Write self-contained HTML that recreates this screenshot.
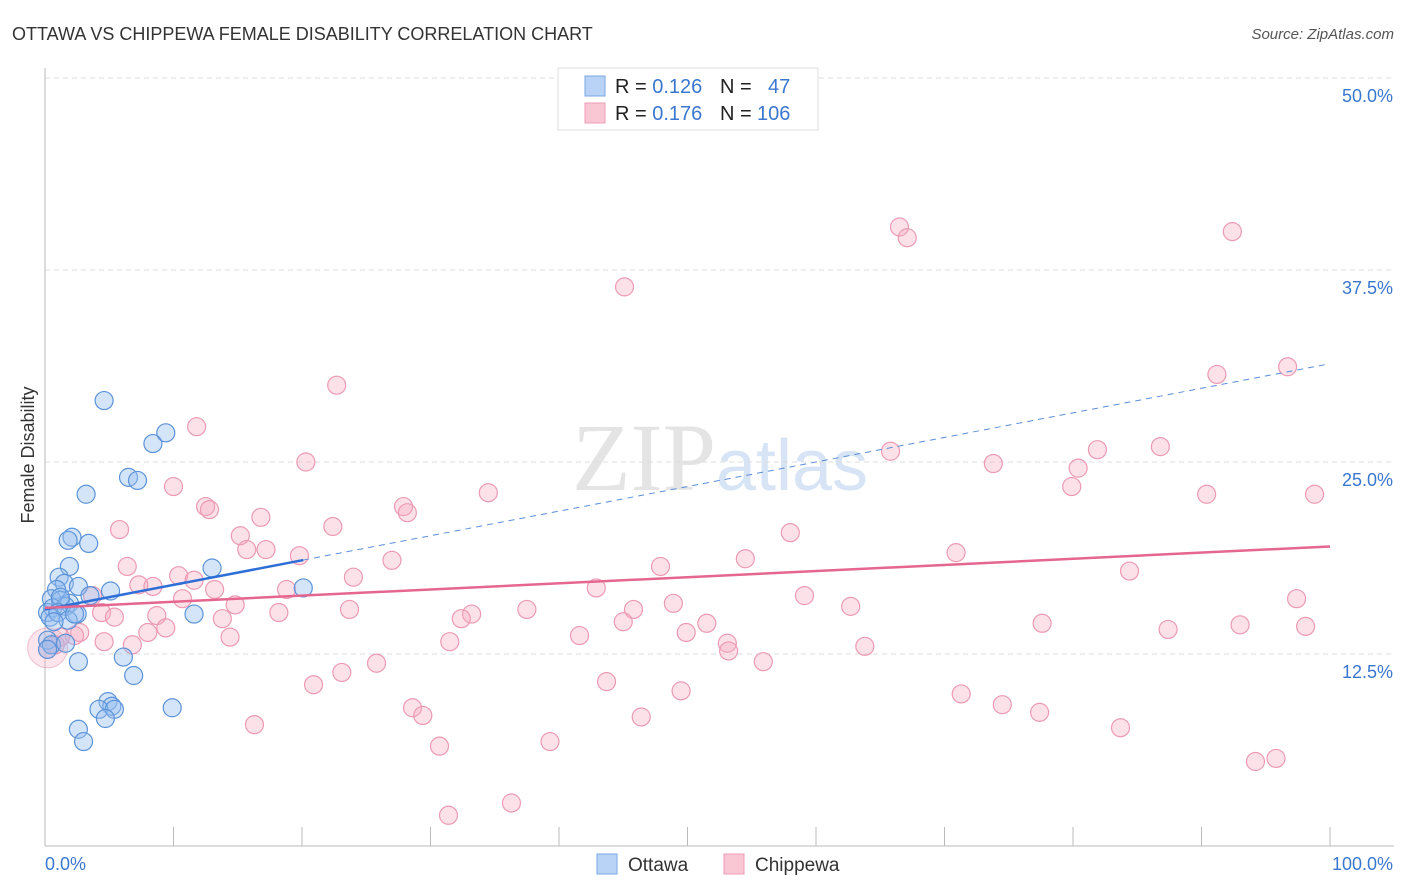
<!DOCTYPE html>
<html><head><meta charset="utf-8"><style>
html,body{margin:0;padding:0;background:#fff;}
svg{display:block;font-family:"Liberation Sans",sans-serif;}
</style></head><body>
<svg id="chart" width="1406" height="892">
<text x="12" y="40" font-size="18" fill="#333">OTTAWA VS CHIPPEWA FEMALE DISABILITY CORRELATION CHART</text>
<text x="1394" y="39" font-size="15" fill="#555" font-style="italic" text-anchor="end">Source: ZipAtlas.com</text>
<text x="720" y="490" font-size="96" fill="#e4e4e4" text-anchor="middle" font-family="Liberation Serif, serif">ZIP<tspan fill="#d6e4f5" font-family="Liberation Sans, sans-serif" font-size="72">atlas</tspan></text>
<g id="grid"></g>
<g id="axes"></g>
<g id="pink"></g>
<g id="blue"></g>
<g id="trends"></g>
<text transform="translate(34,455) rotate(-90)" font-size="18" fill="#333" text-anchor="middle">Female Disability</text>
<g>
<rect x="558" y="68" width="260" height="62" fill="#fff" stroke="#ddd"/>
<rect x="585" y="76" width="20" height="20" fill="#b8d3f5" stroke="#7aa8e4"/>
<rect x="585" y="103" width="20" height="20" fill="#f9c6d4" stroke="#ee9bb5"/>
<text x="615" y="93" font-size="20" fill="#222">R = <tspan fill="#3a78d0">0.126</tspan><tspan x="720">N = </tspan><tspan x="768" fill="#3a78d0">47</tspan></text>
<text x="615" y="120" font-size="20" fill="#222">R = <tspan fill="#3a78d0">0.176</tspan><tspan x="720">N = </tspan><tspan x="757" fill="#3a78d0">106</tspan></text>
</g>
<g>
<rect x="597" y="854" width="20" height="20" fill="#b8d3f5" stroke="#7aa8e4"/>
<text x="628" y="871" font-size="19" fill="#333">Ottawa</text>
<rect x="724" y="854" width="20" height="20" fill="#f9c6d4" stroke="#ee9bb5"/>
<text x="755" y="871" font-size="19" fill="#333">Chippewa</text>
</g>
</svg>
<script>
const yTicks=[12.5,25,37.5,50];
const yTickLabels=["12.5%","25.0%","37.5%","50.0%"];
const xTickLabels=["0.0%","100.0%"];
const ottawaX=[4.6,8.4,9.4,6.5,7.2,3.2,2.1,1.8,3.4,1.9,1.1,1.5,2.6,5.1,0.9,0.5,1.2,1.9,0.2,0.6,1.6,2.5,11.6,13.0,20.1,0.2,0.5,1.6,0.2,2.6,6.1,6.9,4.9,5.2,4.2,5.4,9.9,4.7,2.6,3.0,1.2,3.5,0.4,1.0,1.8,2.3,0.7];
const ottawaY=[29.0,26.2,26.9,24.0,23.8,22.9,20.1,19.9,19.7,18.2,17.5,17.1,16.9,16.6,16.7,16.1,16.0,15.8,15.2,15.5,15.6,15.1,15.1,18.1,16.8,13.4,13.1,13.2,12.8,12.0,12.3,11.1,9.4,9.1,8.9,8.9,9.0,8.3,7.6,6.8,16.2,16.3,14.9,15.2,14.7,15.1,14.6];
const chipX=[45.1,66.5,67.1,92.4,22.7,91.2,96.7,11.8,65.8,81.9,86.8,20.3,73.8,80.4,79.9,10.0,34.5,98.8,90.4,12.5,12.8,27.9,28.2,16.8,5.8,22.4,58.0,15.2,15.7,17.2,19.8,70.9,54.5,27.0,6.4,47.9,84.4,10.4,24.0,11.6,7.3,8.4,18.8,42.9,13.2,3.7,59.1,97.4,10.7,48.9,14.8,62.7,23.7,37.5,8.7,4.4,45.8,5.4,18.2,33.2,13.8,32.4,45.0,51.5,77.6,93.0,98.1,87.4,8.0,9.4,2.7,4.6,14.4,41.6,49.9,2.3,1.2,6.8,53.1,31.5,53.2,63.8,55.9,25.8,23.1,20.9,43.7,49.5,71.3,28.6,29.4,74.5,77.4,46.4,16.3,83.7,39.3,30.7,94.2,95.8,36.3,31.4,0.2,0.8];
const chipY=[36.4,40.3,39.6,40.0,30.0,30.7,31.2,27.3,25.7,25.8,26.0,25.0,24.9,24.6,23.4,23.4,23.0,22.9,22.9,22.1,21.9,22.1,21.7,21.4,20.6,20.8,20.4,20.2,19.3,19.3,18.9,19.1,18.7,18.6,18.2,18.2,17.9,17.6,17.5,17.3,17.0,16.9,16.7,16.8,16.7,16.3,16.3,16.1,16.1,15.8,15.7,15.6,15.4,15.4,15.0,15.2,15.4,14.9,15.2,15.1,14.8,14.8,14.6,14.5,14.5,14.4,14.3,14.1,13.9,14.2,13.9,13.3,13.6,13.7,13.9,13.7,13.6,13.1,13.2,13.3,12.7,13.0,12.0,11.9,11.3,10.5,10.7,10.1,9.9,9.0,8.5,9.2,8.7,8.4,7.9,7.7,6.8,6.5,5.5,5.7,2.8,2.0,12.8,13.1];
const ottawaTrend=[15.4,0.16];
const chipTrend=[15.5,0.04];
const NS="http://www.w3.org/2000/svg";
const X0=45,X1=1330,Y0=846,YPX=192/12.5;
const sx=v=>X0+(X1-X0)*v/100;
const sy=v=>Y0-v*YPX;
function mk(tag,attrs,parent){const e=document.createElementNS(NS,tag);for(const k in attrs)e.setAttribute(k,attrs[k]);parent.appendChild(e);return e;}
const grid=document.getElementById('grid'),axes=document.getElementById('axes');
yTicks.forEach((t,i)=>{
  const g=mk('line',{x1:45,x2:1394,y1:sy(t),y2:sy(t),stroke:'#ddd','stroke-dasharray':'5,4'},grid);
  
  
  const l=mk('text',{x:1393,y:sy(t)+24,'font-size':18,fill:'#3a78d0','text-anchor':'end'},axes);
  l.textContent=yTickLabels[i];
  
  
});
const ya=mk('line',{x1:45,x2:45,y1:68,y2:846,stroke:'#bbb'},axes);


const xa=mk('line',{x1:45,x2:1394,y1:846,y2:846,stroke:'#bbb'},axes);


for(let i=1;i<=10;i++){const t=mk('line',{x1:sx(i*10),x2:sx(i*10),y1:827,y2:846,stroke:'#bbb'},axes);
  
  }
const xl0=mk('text',{x:45,y:870,'font-size':18,fill:'#3a78d0'},axes);xl0.textContent=xTickLabels[0];


const xl1=mk('text',{x:1393,y:870,'font-size':18,fill:'#3a78d0','text-anchor':'end'},axes);xl1.textContent=xTickLabels[1];


const pink=document.getElementById('pink'),blue=document.getElementById('blue');
const big=mk('circle',{cx:sx(0.2),cy:sy(12.9),r:20,fill:'rgba(245,170,192,0.3)',stroke:'rgba(232,140,170,0.5)'},pink);


chipX.forEach((x,i)=>{const c=mk('circle',{cx:sx(x),cy:sy(chipY[i]),r:9,fill:'rgba(245,170,192,0.35)',stroke:'#ec9ab4','stroke-width':1.2},pink);
  
  });
ottawaX.forEach((x,i)=>{const c=mk('circle',{cx:sx(x),cy:sy(ottawaY[i]),r:9,fill:'rgba(150,190,240,0.4)',stroke:'#5b93d8','stroke-width':1.2},blue);
  
  });
const tr=document.getElementById('trends');
const bmax=Math.max(...ottawaX);
const t1=mk('line',{x1:sx(0),y1:sy(ottawaTrend[0]),x2:sx(bmax),y2:sy(ottawaTrend[0]+ottawaTrend[1]*bmax),stroke:'#2d6fd6','stroke-width':2.5},tr);


const t2=mk('line',{x1:sx(bmax),y1:sy(ottawaTrend[0]+ottawaTrend[1]*bmax),x2:sx(99.6),y2:sy(ottawaTrend[0]+ottawaTrend[1]*99.6),stroke:'#5b8fd8','stroke-width':1,'stroke-dasharray':'6,5'},tr);


const t3=mk('line',{x1:sx(0),y1:sy(chipTrend[0]),x2:sx(100),y2:sy(chipTrend[0]+chipTrend[1]*100),stroke:'#e5668f','stroke-width':2.5},tr);


</script>
</body></html>
